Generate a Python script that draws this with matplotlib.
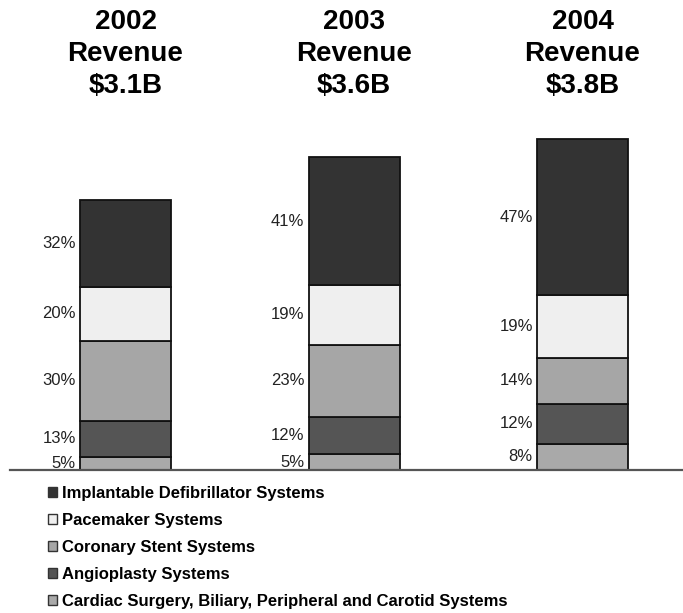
import matplotlib
matplotlib.use("Agg")
import matplotlib.pyplot as plt
from matplotlib.patches import Patch
from matplotlib.transforms import blended_transform_factory
import numpy as np

plt.rcParams["font.family"] = ["Liberation Sans", "DejaVu Sans"]

years = ["2002", "2003", "2004"]
revenue = [3.1, 3.6, 3.8]
revenue_labels = ["$3.1B", "$3.6B", "$3.8B"]

# bottom to top
segments = [
    "Cardiac Surgery, Biliary, Peripheral and Carotid Systems",
    "Angioplasty Systems",
    "Coronary Stent Systems",
    "Pacemaker Systems",
    "Implantable Defibrillator Systems",
]
shares = [
    [5, 5, 8],
    [13, 12, 12],
    [30, 23, 14],
    [20, 19, 19],
    [32, 41, 47],
]
colors = ["#a9a9a9", "#555555", "#a6a6a6", "#efefef", "#333333"]

W, H = 683, 613
fig = plt.figure(figsize=(W / 100, H / 100), dpi=100)

base_px, scale_px = 470, 87
ylim_top = 4.0
x_left_px, x_right_px = 10, 683
c0_px, step_px = 125.5, 228.5
ax = fig.add_axes([x_left_px / W, (H - base_px) / H,
                   (x_right_px - x_left_px) / W, ylim_top * scale_px / H])
ax.set_xlim(-(c0_px - x_left_px) / step_px, (x_right_px - c0_px) / step_px)
ax.set_ylim(0, ylim_top)

x = np.arange(len(years))
width = 91 / step_px
bottom = np.zeros(len(years))
rev = np.array(revenue)
for name, vals, col in zip(segments, shares, colors):
    h = rev * np.array(vals) / 100
    ax.bar(x, h, width=width, bottom=bottom, color=col, edgecolor="#111111",
           linewidth=1.3, label=name)
    for xi, b, hh, v in zip(x, bottom, h, vals):
        ax.annotate(f"{v}%", (xi - width / 2, b + hh / 2), xytext=(-3, 0),
                    textcoords="offset points", ha="right", va="center",
                    fontsize=12, color="#222222")
    bottom = bottom + h

for side in ["top", "right", "left"]:
    ax.spines[side].set_visible(False)
ax.spines["bottom"].set_linewidth(1.6)
ax.spines["bottom"].set_color("#555555")
ax.set_xticks([])
ax.set_yticks([])
ax.patch.set_alpha(0)

# column titles
tr = blended_transform_factory(ax.transData, fig.transFigure)
for xi, yr, rl in zip(x, years, revenue_labels):
    for line, ypx in zip([yr, "Revenue", rl], [22, 54, 86]):
        ax.text(xi, 1 - ypx / H, line, transform=tr, fontsize=20,
                fontweight="bold", ha="center", va="center")

handles = [Patch(facecolor=c, edgecolor="#333333", linewidth=1.0) for c in colors[::-1]]
fig.legend(handles, segments[::-1], loc="upper left", bbox_to_anchor=(48 / W, 1 - 486 / H),
           frameon=False, handlelength=0.55, handleheight=0.55, handletextpad=0.3,
           labelspacing=0.72, borderaxespad=0, borderpad=0,
           prop={"weight": "bold", "size": 12})

fig.savefig("out.png", dpi=100)
